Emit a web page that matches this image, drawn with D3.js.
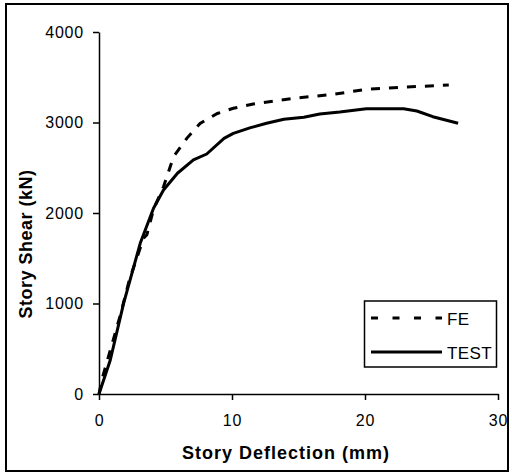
<!DOCTYPE html>
<html>
<head>
<meta charset="utf-8">
<script src="https://cdn.jsdelivr.net/npm/d3@7"></script>
<style>
  body { margin: 0; background: #fff; }
  text { font-family: Arial, "Liberation Sans", sans-serif; }
</style>
</head>
<body>
<svg id="drawing_region"></svg>
<script>
// story deflection (mm) / story shear (kN)
const feX   = [0, 0.2, 1.6, 2.3, 3.35, 3.6, 4.1, 4.85, 5.6, 6.6, 7.6, 8.9, 10.1, 11.6, 14.6, 17.6, 20.1, 22.6, 26.3]
const feY   = [0, 150, 870, 1270, 1720, 1760, 2040, 2290, 2620, 2825, 2990, 3100, 3157, 3204, 3267, 3311, 3366, 3389, 3414]
const testX = [0, 0.85, 1.85, 3.1, 4.1, 4.85, 5.9, 7.1, 8.1, 9.4, 10.1, 11.4, 12.6, 13.9, 15.4, 16.6, 18.1, 20.1, 22.9, 23.9, 25.1, 27.0]
const testY = [0, 376, 1002, 1665, 2052, 2254, 2439, 2586, 2652, 2825, 2880, 2943, 2991, 3035, 3057, 3094, 3116, 3152, 3152, 3127, 3064, 2991]
const xTicks = [0, 10, 20, 30]
const yTicks = [0, 1000, 2000, 3000, 4000]
const seriesNames = ['FE', 'TEST']

const W = 512, H = 473
const margin = {top: 32, right: 14, bottom: 79, left: 99}
const innerW = 498 - margin.left
const innerH = 394 - margin.top

const svg = d3.select('#drawing_region').attr('width', W).attr('height', H)

svg.append('rect')
  .attr('x', 6).attr('y', 4).attr('width', 502).attr('height', 467)
  .attr('fill', 'none').attr('stroke', '#000').attr('stroke-width', 2)

const chart = svg.append('g').attr('transform', `translate(${margin.left},${margin.top})`)

const xscale = d3.scaleLinear().domain([0, 30]).range([0, innerW])
const yscale = d3.scaleLinear().domain([0, 4000]).range([innerH, 0])

const xaxis = chart.append('g').attr('transform', `translate(0,${innerH})`)
  .call(d3.axisBottom(xscale).tickValues(xTicks).tickFormat(d3.format('d')).tickSize(6).tickPadding(15).tickSizeOuter(0))
const yaxis = chart.append('g')
  .call(d3.axisLeft(yscale).tickValues(yTicks).tickFormat(d3.format('d')).tickSize(6).tickPadding(9).tickSizeOuter(0))

;[xaxis, yaxis].forEach(a => {
  a.select('.domain').attr('stroke-width', 1.5)
  a.selectAll('.tick line').attr('stroke-width', 1.5)
  a.selectAll('.tick text')
    .attr('font-size', 16)
    .attr('letter-spacing', 0.8)
    .attr('font-family', 'Arial, "Liberation Sans", sans-serif')
    .attr('fill', '#000')
})

const line = d3.line().x(d => xscale(d[0])).y(d => yscale(d[1]))

chart.append('path')
  .datum(d3.zip(testX, testY))
  .attr('d', line)
  .attr('fill', 'none').attr('stroke', '#000').attr('stroke-width', 3)
  .attr('stroke-linejoin', 'round')

chart.append('path')
  .datum(d3.zip(feX, feY))
  .attr('d', line)
  .attr('fill', 'none').attr('stroke', '#000').attr('stroke-width', 3)
  .attr('stroke-dasharray', '9,9')

// axis titles
svg.append('text')
  .attr('x', 286).attr('y', 459)
  .attr('text-anchor', 'middle')
  .attr('font-size', 18).attr('font-weight', 'bold')
  .attr('letter-spacing', 1)
  .text('Story Deflection (mm)')

svg.append('text')
  .attr('transform', 'translate(32,244) rotate(-90)')
  .attr('text-anchor', 'middle')
  .attr('font-size', 18).attr('font-weight', 'bold')
  .attr('letter-spacing', 0.5)
  .text('Story Shear (kN)')

// legend
const legend = svg.append('g')
legend.append('rect')
  .attr('x', 364.5).attr('y', 301).attr('width', 132).attr('height', 66)
  .attr('fill', '#fff').attr('stroke', '#000').attr('stroke-width', 1.5)

seriesNames.forEach((name, i) => {
  const y = 318 + i * 34
  legend.append('line')
    .attr('x1', 371).attr('x2', 442).attr('y1', y).attr('y2', y)
    .attr('stroke', '#000').attr('stroke-width', 3)
    .attr('stroke-dasharray', name === 'FE' ? '7,14.5' : null)
  legend.append('text')
    .attr('x', 447).attr('y', y + 7)
    .attr('font-size', 17)
    .attr('letter-spacing', 0.4)
    .text(name)
})
</script>
</body>
</html>
